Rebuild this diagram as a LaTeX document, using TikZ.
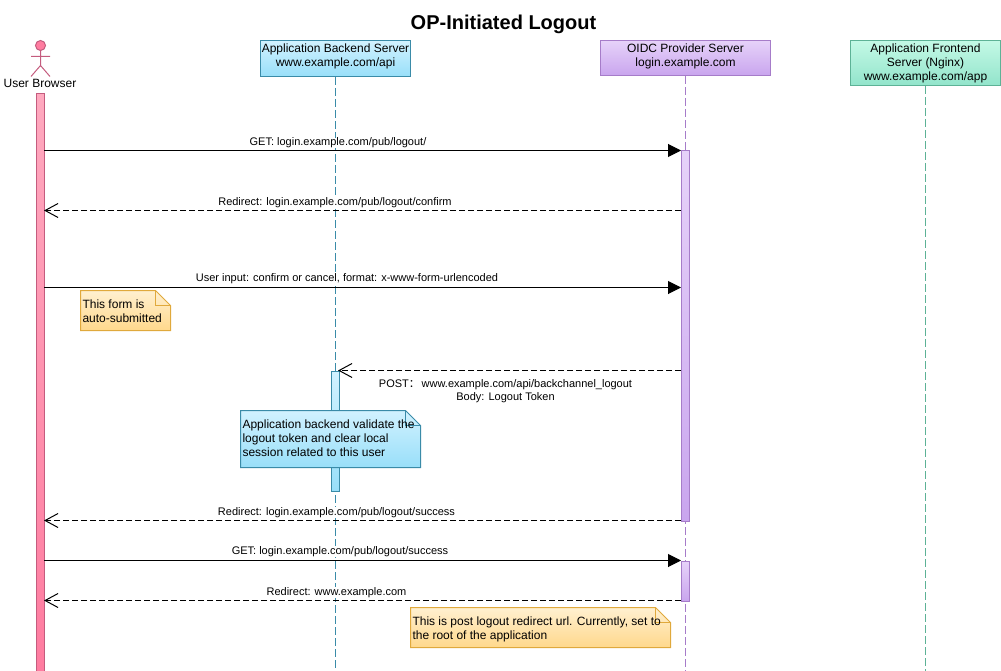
\documentclass[tikz,border=0pt]{standalone}
\usepackage{fontspec}
\setmainfont{Liberation Sans}
\newfontfamily\cjk{Noto Sans CJK SC}
\usetikzlibrary{arrows.meta}

\definecolor{pinkline}{HTML}{C45C7E}
\definecolor{pinktop}{HTML}{FFA9BF}
\definecolor{pinkbot}{HTML}{FF7CA0}
\definecolor{blueline}{HTML}{3A8BA8}
\definecolor{bluetop}{HTML}{D2F2FF}
\definecolor{bluebot}{HTML}{98DFF9}
\definecolor{purpleline}{HTML}{A67CC9}
\definecolor{purpletop}{HTML}{E6D2F9}
\definecolor{purplebot}{HTML}{C9A5EE}
\definecolor{greenline}{HTML}{5DB296}
\definecolor{greentop}{HTML}{C4F9E6}
\definecolor{greenbot}{HTML}{92E4CB}
\definecolor{noteline}{HTML}{E0A93C}
\definecolor{notetop}{HTML}{FFF0D0}
\definecolor{notebot}{HTML}{FFD88C}

\tikzset{
  pinkfill/.style={draw=pinkline,top color=pinktop,bottom color=pinkbot},
  bluefill/.style={draw=blueline,top color=bluetop,bottom color=bluebot},
  purplefill/.style={draw=purpleline,top color=purpletop,bottom color=purplebot},
  greenfill/.style={draw=greenline,top color=greentop,bottom color=greenbot},
  notefill/.style={draw=noteline,top color=notetop,bottom color=notebot},
  header/.style={inner sep=0pt,align=center,anchor=north,font=\fontsize{12}{14}\selectfont},
  bar/.style={minimum width=8.5pt,inner sep=0pt,anchor=north},
  lifeline/.style={dash pattern=on 8pt off 3pt},
  msg/.style={font=\fontsize{11}{13}\selectfont,inner sep=0pt,align=center},
  notetext/.style={font=\fontsize{12}{14}\selectfont,inner sep=0pt,align=left,anchor=north west},
  callline/.style={black,-{Triangle[length=13pt,width=13pt]}},
  backline/.style={black,dash pattern=on 6pt off 3pt,-{Straight Barb[length=13pt,width=14pt,line width=1pt]}}
}

% name, fill style, line colour, x, y, width, height, text
\newcommand{\notebox}[8]{
  \draw[#2] (#4,#5) -- ({#4+#6-15},#5) -- ({#4+#6},{#5+15}) -- ({#4+#6},{#5+#7}) -- (#4,{#5+#7}) -- cycle;
  \draw[#3] ({#4+#6-15},#5) -- ({#4+#6-15},{#5+15}) -- ({#4+#6},{#5+15});
  \node[notetext] (#1) at ({#4+1.5},{#5+9}) {#8};
}

\begin{document}
\begin{tikzpicture}[x=1pt,y=-1pt,line width=1pt]
  \useasboundingbox (0,0) rectangle (1001,671);

  \node[font=\bfseries\fontsize{20}{22}\selectfont] (title) at (503.5,24) {OP-Initiated Logout};

  % participants
  \node[header,bluefill,minimum width=150pt,minimum height=36pt] (backend) at (335.5,40) {Application Backend Server\\www.example.com/api\\[-8pt]\mbox{}};
  \node[header,purplefill,minimum width=170pt,minimum height=35pt] (oidc) at (685.5,40) {OIDC Provider Server\\login.example.com\\[-8pt]\mbox{}};
  \node[header,greenfill,minimum width=150pt,minimum height=45pt] (frontend) at (925.5,40) {Application Frontend\\Server (Nginx)\\www.example.com/app};

  \coordinate (backendend) at (335.5,671);
  \coordinate (oidcend) at (685.5,671);
  \coordinate (frontendend) at (925.5,671);
  \draw[lifeline,draw=blueline] (backend) -- (backendend);
  \draw[lifeline,draw=purpleline] (oidc) -- (oidcend);
  \draw[lifeline,draw=greenline] (frontend) -- (frontendend);

  % actor
  \draw[pinkline,fill=pinkbot] (40.5,45.5) circle(5);
  \draw[pinkline] (40.5,50.5) -- (40.5,65.5) (31,56.5) -- (50,56.5) (31,76.5) -- (40.5,65.5) -- (50,76.5);
  \node[font=\fontsize{12}{14}\selectfont,inner sep=0pt] (browser) at (40,83) {User Browser};

  % activations
  \node[bar,pinkfill,minimum height=577pt] (browserbar) at (40.5,93.5) {};
  \node[bar,purplefill,minimum height=370pt] (oidcbar1) at (685.5,150.5) {};
  \node[bar,purplefill,minimum height=40pt] (oidcbar2) at (685.5,560.5) {};
  \node[bar,bluefill,minimum height=120pt] (backendbar) at (335.5,370.5) {};

  % messages
  \coordinate (b1) at (44,150.5);   \coordinate (o1) at (681,150.5);
  \coordinate (b2) at (44,210.5);   \coordinate (o2) at (681,210.5);
  \coordinate (b3) at (44,287.5);   \coordinate (o3) at (681,287.5);
  \coordinate (a4) at (338,370.5);  \coordinate (o4) at (681,370.5);
  \coordinate (b5) at (44,520.5);   \coordinate (o5) at (681,520.5);
  \coordinate (b6) at (44,560.5);   \coordinate (o6) at (681,560.5);
  \coordinate (b7) at (44,600.5);   \coordinate (o7) at (681,600.5);
  \draw[callline] (b1) -- (o1);
  \draw[backline] (o2) -- (b2);
  \draw[callline] (b3) -- (o3);
  \draw[backline] (o4) -- (a4);
  \draw[backline] (o5) -- (b5);
  \draw[callline] (b6) -- (o6);
  \draw[backline] (o7) -- (b7);

  \node[msg,fill=white] (m1) at (338,143) {GET: login.example.com/pub/logout/};
  \node[msg,fill=white] (m2) at (335,202.5) {Redirect: login.example.com/pub/logout/confirm};
  \node[msg,fill=white] (m3) at (347,278.5) {User input: confirm or cancel, format: x-www-form-urlencoded};
  \node[msg,fill=white] (m4) at (505.5,391.5) {POST{\cjk：}\,www.example.com/api/backchannel\_logout\\Body: Logout Token};
  \node[msg,fill=white] (m5) at (336.5,512.5) {Redirect: login.example.com/pub/logout/success};
  \node[msg,fill=white] (m6) at (340,551.5) {GET: login.example.com/pub/logout/success};
  \node[msg,fill=white] (m7) at (336.5,592.5) {Redirect: www.example.com};

  % notes
  \notebox{formnote}{notefill}{noteline}{80.5}{290.5}{90}{40}{This form is\\auto-submitted}
  \notebox{backendnote}{bluefill}{blueline}{240.5}{410.5}{180}{57}{Application backend validate the\\logout token and clear local\\session related to this user}
  \notebox{urlnote}{notefill}{noteline}{410.5}{607.5}{260}{40}{This is post logout redirect url. Currently, set to\\the root of the application}
\end{tikzpicture}
\end{document}
